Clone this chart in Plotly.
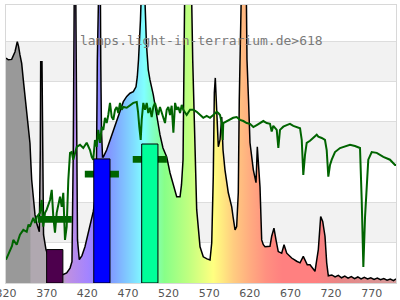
import plotly.graph_objects as go

# ---------------- data ----------------
SPEC_NM = [320, 322.8, 327, 331.1, 333.9, 335.4, 337.2, 339.3, 341.3, 343.4, 345.5, 347.4, 349.5,
           350.4, 351.6, 353.6, 355.7, 358.2, 361, 362.2, 362.7, 364.3, 365.2, 366.2, 369.2, 374.2,
           380.3, 386.5, 390.5, 394.7, 398.8, 401.2, 402.8, 403.7, 404.4, 405.4, 406.2, 407, 408,
           410.2, 413.5, 417.2, 420.9, 424.6, 427.4, 430.2, 431.4, 432.4, 433.2, 435.7, 436.6, 437.5,
           438.8, 439.8, 443.9, 448, 452.1, 456.2, 460.3, 464.4, 468.6, 472.6, 476.7, 480, 481.6,
           483.1, 485.5, 486.8, 488.6, 490.2, 491.7, 492.9, 495.1, 497.2, 501.3, 505.5, 509.5, 513.2,
           517.8, 521.9, 525.5, 530.1, 534.2, 536, 537.9, 539.1, 540.3, 544, 547.7, 549.8, 552.6,
           554.7, 558.8, 562.8, 567.4, 571.1, 573.2, 575.1, 576.4, 577.6, 579.3, 581.3, 583.4, 585.5,
           587.1, 589.5, 593.6, 597.8, 599.4, 601.9, 603.9, 605.9, 607.1, 608, 609.2, 612.3, 615.4,
           616.6, 618.5, 620.3, 624.4, 627.7, 629.3, 631.4, 632.6, 634.7, 636.7, 638.8, 644.9, 647,
           649, 649.8, 652.3, 653.5, 655.1, 659.3, 662.2, 665.5, 671.6, 677.8, 681.9, 685.9, 688,
           690.8, 694.2, 700.3, 704.4, 707.3, 709.8, 712.6, 714.7, 716.7, 721, 725, 729, 733, 737,
           741, 745, 749, 753, 757, 761, 765, 769, 773, 777, 781, 785, 789, 793, 797, 800]
SPEC_VAL = [55.8, 55.4, 55.5, 57.4, 59.9, 58.8, 56.6, 54.5, 50.4, 46.3, 43.0, 39.7, 34.7,
            30.6, 25.6, 21.4, 16.9, 14.5, 12.7, 33.0, 54.9, 54.9, 33.0, 12.0, 8.3, 5.3,
            3.3, 2.1, 2.1, 2.5, 3.7, 5.3, 33.0, 55.4, 85, 85, 55.4, 33.0, 10.7,
            5.8, 6.8, 9.0, 12.2, 15.4, 17.7, 21.6, 30.6, 55.4, 90, 90, 55.4, 38.0,
            31.3, 31.3, 33.0, 35.5, 38.0, 40.5, 43.0, 45.0, 46.3, 47.1, 47.5, 48.7, 51.2,
            55.4, 65.3, 75, 85, 75, 64.0, 59.1, 52.9, 50.4, 46.7, 41.2, 36.8, 33.5,
            31.3, 27.3, 24.4, 21.4, 21.4, 24.4, 30.6, 55.4, 80, 95, 80, 55.4, 34.8,
            18.2, 9.0, 6.5, 6.0, 5.7, 10.0, 26.4, 47.2, 50.9, 43.0, 33.8, 35.5, 41.2,
            33.0, 28.1, 22.4, 18.9, 16.5, 13.2, 14.0, 22.4, 45.4, 62.8, 80, 100, 80,
            55.4, 45.4, 34.8, 28.1, 24.9, 33.8, 28.8, 23.9, 10.7, 9.5, 9.0, 9.1, 11.6,
            13.2, 13.6, 10.7, 9.1, 7.8, 7.4, 9.5, 7.4, 6.2, 5.4, 5.0, 6.6, 5.8,
            4.5, 4.5, 2.9, 8.3, 16.5, 15.3, 11.6, 5.0, 1.8, 2.0, 1.5, 1.9, 1.3, 1.7,
            1.2, 1.6, 1.1, 1.5, 1.0, 1.4, 1.0, 1.3, 0.9, 1.2, 0.8, 1.1, 0.7, 1.0, 0.6, 1.0]

GREEN_NM = [320, 322.5, 324.9, 327.4, 329, 333.2, 337.2, 341.3, 345.5, 347.7, 349.5, 353.6, 355.7,
            357.8, 361.8, 363.9, 365.9, 368, 370.1, 374.2, 376.3, 378.2, 380.3, 382.4, 386.5, 388.6,
            390.5, 391.4, 392.6, 394.7, 396.7, 398.8, 400.9, 402.8, 404.9, 407, 411.1, 415.1, 419.3,
            423.4, 425.5, 427.4, 429.5, 431.6, 433.6, 435.7, 437.8, 439.8, 441.8, 443.9, 445.9, 448,
            450.1, 452.1, 454.2, 456.2, 458.2, 460.3, 462.4, 464.4, 468.6, 472.6, 476.7, 480.9, 482.5,
            484.1, 485.8, 487, 489, 491.1, 493.2, 495.1, 497.2, 499.3, 501.3, 503.4, 505.5, 507.4,
            509.5, 513.6, 515.7, 517.8, 519.8, 521.9, 523.9, 526, 528.1, 530.1, 532.1, 534.2, 536.3,
            538.2, 542.4, 546.5, 550.5, 554.7, 558.8, 562.8, 567, 571.1, 575.1, 579.3, 581.3, 583.4,
            585.5, 586.7, 587.4, 591.6, 595.4, 599.6, 603.9, 608, 612.1, 616.3, 620.3, 624.4, 628.6,
            632.6, 636.7, 640.9, 644.9, 647, 649, 653.2, 655.2, 657.2, 661.3, 665.5, 669.5, 673.6,
            677.8, 681.9, 684, 685.9, 688, 690.1, 694.2, 698.2, 702.4, 704.4, 708.6, 712.6, 714.7,
            716.7, 718.8, 720.9, 724.9, 731.1, 737.3, 743.4, 749.5, 755.7, 757.8, 759.8, 761.9, 763.9,
            765.9, 770.1, 776.3, 784.4, 792.6, 798.8, 800]
GREEN_VAL = [5.8, 7.0, 8.3, 9.2, 10.7, 9.5, 12.0, 13.2, 12.7, 14.5, 14.0, 16.2, 14.9,
             16.4, 17.4, 20.6, 14.0, 17.4, 18.2, 20.6, 23.1, 16.4, 12.5, 17.4, 21.4, 18.9,
             22.4, 15.7, 10.7, 14.0, 25.6, 32.3, 32.5, 30.6, 32.3, 33.8, 34.3, 33.5, 34.8,
             33.0, 31.3, 30.6, 35.5, 33.8, 38.0, 34.8, 38.7, 38.0, 41.0, 39.7, 41.7, 44.7,
             41.2, 40.5, 43.0, 43.7, 42.2, 44.7, 43.0, 43.7, 43.5, 44.2, 44.7, 44.9, 42.5,
             38.7, 35.5, 40.5, 44.7, 43.0, 44.7, 42.2, 43.5, 41.2, 43.7, 44.7, 43.0, 41.7,
             43.7, 41.0, 39.7, 43.0, 43.7, 41.7, 44.0, 37.3, 44.7, 43.0, 43.7, 42.2, 44.2,
             43.0, 41.7, 43.0, 43.0, 42.5, 41.7, 41.0, 41.5, 41.0, 41.7, 42.5, 42.2, 41.7,
             39.7, 35.5, 39.7, 40.2, 40.5, 41.0, 41.2, 40.5, 40.2, 39.7, 39.5, 38.7, 39.2,
             39.7, 40.2, 39.7, 39.5, 37.6, 39.0, 38.0, 33.5, 38.0, 38.8, 39.2, 39.5, 39.0,
             38.7, 38.4, 35.5, 26.8, 31.8, 34.8, 35.3, 36.0, 36.8, 36.3, 36.0, 35.5, 33.0,
             26.4, 29.3, 30.6, 32.5, 33.5, 34.0, 34.3, 34.0, 33.5, 20.6, 4.0, 16.4, 24.9,
             30.6, 32.5, 32.3, 31.3, 30.6, 29.3, 29.3]

BAR_NM = [380, 438, 497]
BAR_VAL = [8.3, 30.8, 34.5]
BAR_COLORS = ["#4d004d", "#0000ff", "#00ff99"]
DASH_VAL = [15.8, 27.0, 30.7]

X_TICKS = [320, 370, 420, 470, 520, 570, 620, 670, 720, 770]
TITLE = "lamps.light-in-terrarium.de>618"

# wavelength -> fill colour
WL_STOPS = [320, 349, 351, 388, 395, 420, 440, 455, 475, 490, 500, 515, 545, 575, 585, 600,
            620, 640, 660, 700, 730, 800]
WL_COLORS = ["#999999", "#999999", "#b0a8b0", "#b0a8b0", "#c090e0", "#a484ff", "#8488ff",
             "#80a8ff", "#80d8ff", "#80ffff", "#80ffc8", "#88ff88", "#c0ff80", "#ffff80",
             "#ffec80", "#ffcc80", "#ffac80", "#ff9080", "#ff8080", "#ff8080", "#e88686",
             "#d49a9a"]

XR = [320, 800]
YR = [0, 69]

colorscale = [[(w - XR[0]) / (XR[1] - XR[0]), c] for w, c in zip(WL_STOPS, WL_COLORS)]

fig = go.Figure()

fig.add_trace(go.Scatter(
    x=SPEC_NM, y=SPEC_VAL, mode="lines",
    line=dict(color="black", width=1.5),
    fill="tozeroy",
    fillgradient=dict(type="horizontal", colorscale=colorscale, start=XR[0], stop=XR[1]),
    hoverinfo="skip", showlegend=False))

fig.add_trace(go.Scatter(
    x=GREEN_NM, y=GREEN_VAL, mode="lines",
    line=dict(color="#006400", width=2),
    hoverinfo="skip", showlegend=False))

# dash markers (thin bars), then the coloured bars on the overlay axes
dash_h = 1.66
fig.add_trace(go.Bar(
    x=BAR_NM, y=[dash_h] * len(DASH_VAL), base=[v - dash_h / 2 for v in DASH_VAL],
    width=42, marker=dict(color="#006400", line=dict(width=0)),
    xaxis="x2", yaxis="y2", showlegend=False, hoverinfo="skip"))
fig.add_trace(go.Bar(
    x=BAR_NM, y=BAR_VAL, width=20,
    marker=dict(color=BAR_COLORS, line=dict(color="black", width=1)),
    xaxis="x2", yaxis="y2", showlegend=False, hoverinfo="skip"))

shapes = []
for lo in (10, 30, 50):
    shapes.append(dict(type="rect", xref="paper", yref="y", x0=0, x1=1, y0=lo, y1=lo + 10,
                       fillcolor="#f2f2f2", line=dict(width=0), layer="below"))

fig.update_layout(
    width=400, height=300,
    margin=dict(l=6, r=4, t=5, b=17, autoexpand=False),
    paper_bgcolor="white", plot_bgcolor="white",
    barmode="overlay",
    shapes=shapes,
    xaxis=dict(range=XR, tickvals=X_TICKS, ticktext=[str(t) for t in X_TICKS],
               showgrid=False, zeroline=False, showline=True, mirror=True,
               linecolor="#d8d8d8", linewidth=1, ticks="", automargin=False,
               tickfont=dict(family="DejaVu Sans", size=11, color="#555555"),
               ticklabeloverflow="allow"),
    yaxis=dict(range=YR, dtick=10, tick0=0, showticklabels=False, showgrid=True,
               gridcolor="#dddddd", gridwidth=1, zeroline=False, showline=True, mirror=True,
               linecolor="#d8d8d8", linewidth=1, ticks="", automargin=False),
    xaxis2=dict(overlaying="x", range=XR, visible=False, automargin=False),
    yaxis2=dict(overlaying="y", range=YR, visible=False, automargin=False),
    annotations=[dict(text=TITLE, xref="paper", yref="paper", x=0.5, y=0.908,
                      showarrow=False, font=dict(family="DejaVu Sans Mono", size=13,
                                                  color="#7a7a7a"))],
)

fig.write_html("out.html")
